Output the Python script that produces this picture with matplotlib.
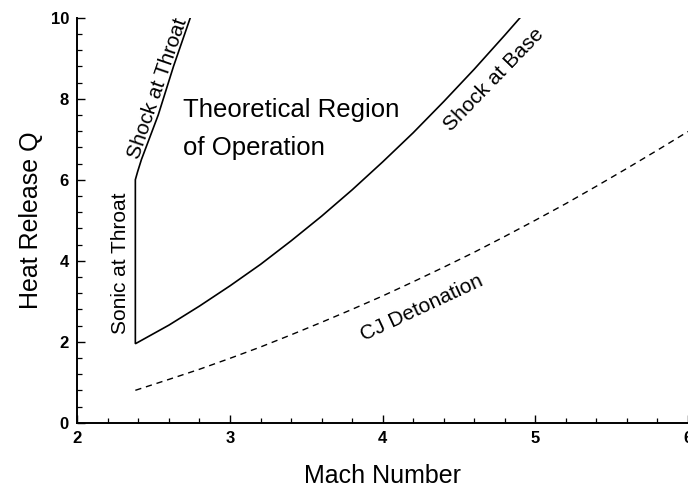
"""Operating envelope: heat release Q vs flight Mach number."""
import matplotlib
matplotlib.use("Agg")
import matplotlib.pyplot as plt
from matplotlib.ticker import AutoMinorLocator, MultipleLocator

plt.rcParams["font.family"] = ["Liberation Sans", "DejaVu Sans"]

# sonic at throat (vertical boundary)
sonic_mach = [2.38, 2.38]
sonic_q = [1.95, 6.0]

# shock at throat (upper-left boundary)
throat_mach = [2.38, 2.395, 2.42, 2.53, 2.63, 2.74]
throat_q = [6.0, 6.2, 6.5, 7.6, 8.8, 10.0]

# shock at base (lower-right boundary)
base_mach = [2.38, 2.6, 2.8, 3.0, 3.2, 3.4, 3.6, 3.8, 4.0, 4.2, 4.4, 4.6, 4.8, 4.9]
base_q = [1.95, 2.41, 2.88, 3.38, 3.91, 4.49, 5.10, 5.75, 6.44, 7.16, 7.93, 8.73, 9.57, 10.0]

# CJ detonation (dashed)
cj_mach = [2.38, 2.6, 2.8, 3.0, 3.2, 3.4, 3.6, 3.8, 4.0, 4.2,
           4.4, 4.6, 4.8, 5.0, 5.2, 5.4, 5.6, 5.8, 6.0]
cj_q = [0.80, 1.07, 1.32, 1.59, 1.87, 2.17, 2.48, 2.80, 3.13, 3.48,
        3.84, 4.21, 4.60, 5.00, 5.41, 5.84, 6.28, 6.73, 7.19]

fig = plt.figure(figsize=(6.88, 4.94), dpi=100)
ax = fig.add_axes([0.1124, 0.1443, 0.8876, 0.8198])

# one continuous boundary so the corners join cleanly
bound_x = throat_mach[::-1] + sonic_mach[::-1] + base_mach
bound_y = throat_q[::-1] + sonic_q[::-1] + base_q
ax.plot(bound_x, bound_y, color="black", lw=1.2, solid_joinstyle="miter")
ax.plot(cj_mach, cj_q, color="black", lw=1.0, dashes=(4.5, 3.5))

ax.set_xlim(2, 6)
ax.set_ylim(0, 10)
ax.xaxis.set_major_locator(MultipleLocator(1))
ax.yaxis.set_major_locator(MultipleLocator(2))
ax.xaxis.set_minor_locator(AutoMinorLocator(5))
ax.yaxis.set_minor_locator(AutoMinorLocator(5))
ax.tick_params(which="major", direction="in", length=6, width=1.0,
               labelsize=12, pad=6)
ax.tick_params(which="minor", direction="in", length=3.5, width=0.9)
for lbl in ax.get_xticklabels() + ax.get_yticklabels():
    lbl.set_fontweight("bold")

for side in ("top", "right"):
    ax.spines[side].set_visible(False)
for side in ("left", "bottom"):
    ax.spines[side].set_linewidth(1.4)

ax.set_xlabel("Mach Number", fontsize=18)
ax.set_ylabel("Heat Release Q", fontsize=18)
ax.xaxis.set_label_coords(0.5, -0.103)
ax.yaxis.set_label_coords(-0.057, 0.5)

ax.text(2.695, 7.54, "Theoretical Region", fontsize=18.5, ha="left", va="baseline")
ax.text(2.695, 6.61, "of Operation", fontsize=18.5, ha="left", va="baseline")
ax.text(2.525, 8.26, "Shock at Throat", fontsize=15, rotation=71, ha="center", va="center")
ax.text(2.280, 3.94, "Sonic at Throat", fontsize=15, rotation=90, ha="center", va="center")
ax.text(4.726, 8.46, "Shock at Base", fontsize=15, rotation=46, ha="center", va="center")
ax.text(4.257, 2.84, "CJ Detonation", fontsize=15, rotation=25, ha="center", va="center")

fig.savefig("out.png", dpi=100)
